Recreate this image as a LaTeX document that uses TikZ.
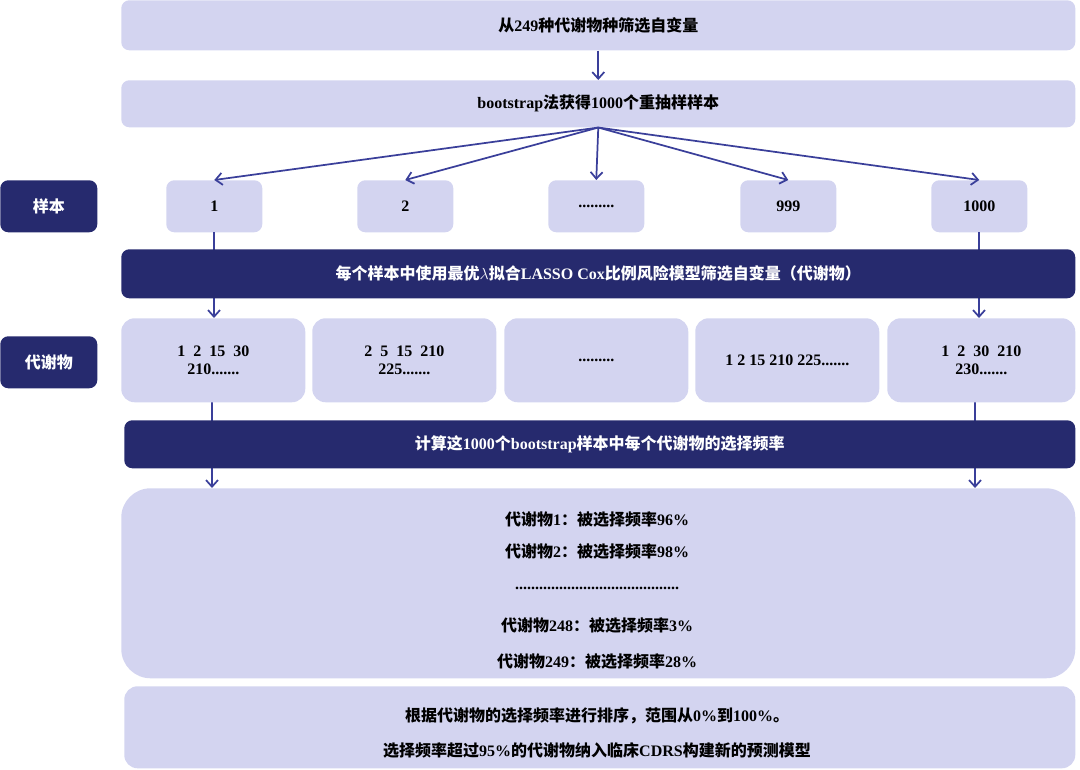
\documentclass[tikz,border=0pt]{standalone}
\usepackage{fontspec}
\setmainfont{Liberation Serif}
\newfontfamily\cjk{Noto Sans CJK SC}
\usetikzlibrary{arrows.meta}
\definecolor{lite}{HTML}{D3D4F0}
\definecolor{dark}{HTML}{262A6E}
\definecolor{arr}{HTML}{3A3F9A}
\newcommand{\zh}[1]{{\cjk\bfseries #1}}
\newcommand{\mydots}{.........}
\tikzset{
 lbox/.style={fill=lite,rounded corners=6pt,draw=none},
 dbox/.style={fill=dark,rounded corners=6pt,draw=none},
 conn/.style={draw=arr,line width=1.3pt,-{Straight Barb[length=5pt,width=9pt]}},
 t/.style={font=\bfseries\fontsize{12}{14}\selectfont,text=black,align=center},
 w/.style={font=\bfseries\fontsize{12}{14}\selectfont,text=white,align=center}
}
\begin{document}
\begin{tikzpicture}[x=0.75pt,y=-0.75pt]
\useasboundingbox (0,0) rectangle (1080,769);
% top boxes
\node[lbox,minimum width=954*0.75pt,minimum height=50*0.75pt,anchor=north west] (b1) at (121,0) {};
\node[t] at (b1) {\zh{从}249\zh{种代谢物种筛选自变量}};
\node[lbox,minimum width=954*0.75pt,minimum height=47*0.75pt,anchor=north west] (b2) at (121,80) {};
\node[t] at (b2) {bootstrap\zh{法获得}1000\zh{个重抽样样本}};
\draw[conn] (b1.south) -- (b2.north);
% sample row
\node[dbox,minimum width=97*0.75pt,minimum height=52*0.75pt,anchor=north west] (ls) at (0,180) {};
\node[w] at (ls) {\zh{样本}};
\foreach \n/\x/\l in {s1/166/1,s2/357/2,s3/548/\mydots,s4/740/999,s5/931/1000}{
 \node[lbox,minimum width=96*0.75pt,minimum height=52*0.75pt,anchor=north west] (\n) at (\x,180) {};
 \node[t] at (\n) {\l};
}
\coordinate (c1a) at (214,232); \coordinate (c1b) at (214,318);
\coordinate (c5a) at (979,232); \coordinate (c5b) at (979,318);
\draw[conn] (c1a) -- (c1b);
\draw[conn] (c5a) -- (c5b);
\coordinate (d1a) at (212,402); \coordinate (d1b) at (212,488);
\coordinate (d5a) at (975,402); \coordinate (d5b) at (975,488);
\draw[conn] (d1a) -- (d1b);
\draw[conn] (d5a) -- (d5b);
\foreach \n in {s1,s2,s3,s4,s5} \draw[conn] (b2.south) -- (\n.north);
% dark bar 1
\node[dbox,minimum width=954*0.75pt,minimum height=49*0.75pt,anchor=north west] (bar1) at (121,249) {};
\node[w] at (bar1) {\zh{每个样本中使用最优}$\lambda$\zh{拟合}LASSO Cox\zh{比例风险模型筛选自变量（代谢物）}};
% metabolite row
\node[dbox,minimum width=97*0.75pt,minimum height=52*0.75pt,anchor=north west] (lm) at (0,336) {};
\node[w] at (lm) {\zh{代谢物}};
\foreach \n/\x/\ww/\l in {m1/121/184/{1\ \ 2\ \ 15\ \ 30\\210.......},m2/312/184/{2\ \ 5\ \ 15\ \ 210\\225.......},m3/504/184/{\mydots},m4/695/184/{1 2 15 210 225.......},m5/887/188/{1\ \ 2\ \ 30\ \ 210\\230.......}}{
 \node[lbox,minimum width=\ww*0.75pt,minimum height=84*0.75pt,anchor=north west,rounded corners=10pt] (\n) at (\x,318) {};
 \node[t] at (\n) {\l};
}
% dark bar 2
\node[dbox,minimum width=951*0.75pt,minimum height=48*0.75pt,anchor=north west] (bar2) at (124,420) {};
\node[w] at (bar2) {\zh{计算这}1000\zh{个}bootstrap\zh{样本中每个代谢物的选择频率}};
% big box
\node[lbox,minimum width=954*0.75pt,minimum height=190*0.75pt,anchor=north west,rounded corners=22pt] (big) at (121,488) {};
\node[t] at (597,519) {\zh{代谢物}1\zh{：被选择频率}96\%};
\node[t] at (597,551) {\zh{代谢物}2\zh{：被选择频率}98\%};
\node[t] at (597,588) {.........................................};
\node[t] at (597,625) {\zh{代谢物}248\zh{：被选择频率}3\%};
\node[t] at (597,661) {\zh{代谢物}249\zh{：被选择频率}28\%};
% bottom box
\node[lbox,minimum width=951*0.75pt,minimum height=82*0.75pt,anchor=north west,rounded corners=10pt] (bot) at (124,686) {};
\node[t] at (597,716) {\zh{根据代谢物的选择频率进行排序，范围从}0\%\zh{到}100\%\zh{。}};
\node[t] at (597,750) {\zh{选择频率超过}95\%\zh{的代谢物纳入临床}CDRS\zh{构建新的预测模型}};
\end{tikzpicture}
\end{document}
